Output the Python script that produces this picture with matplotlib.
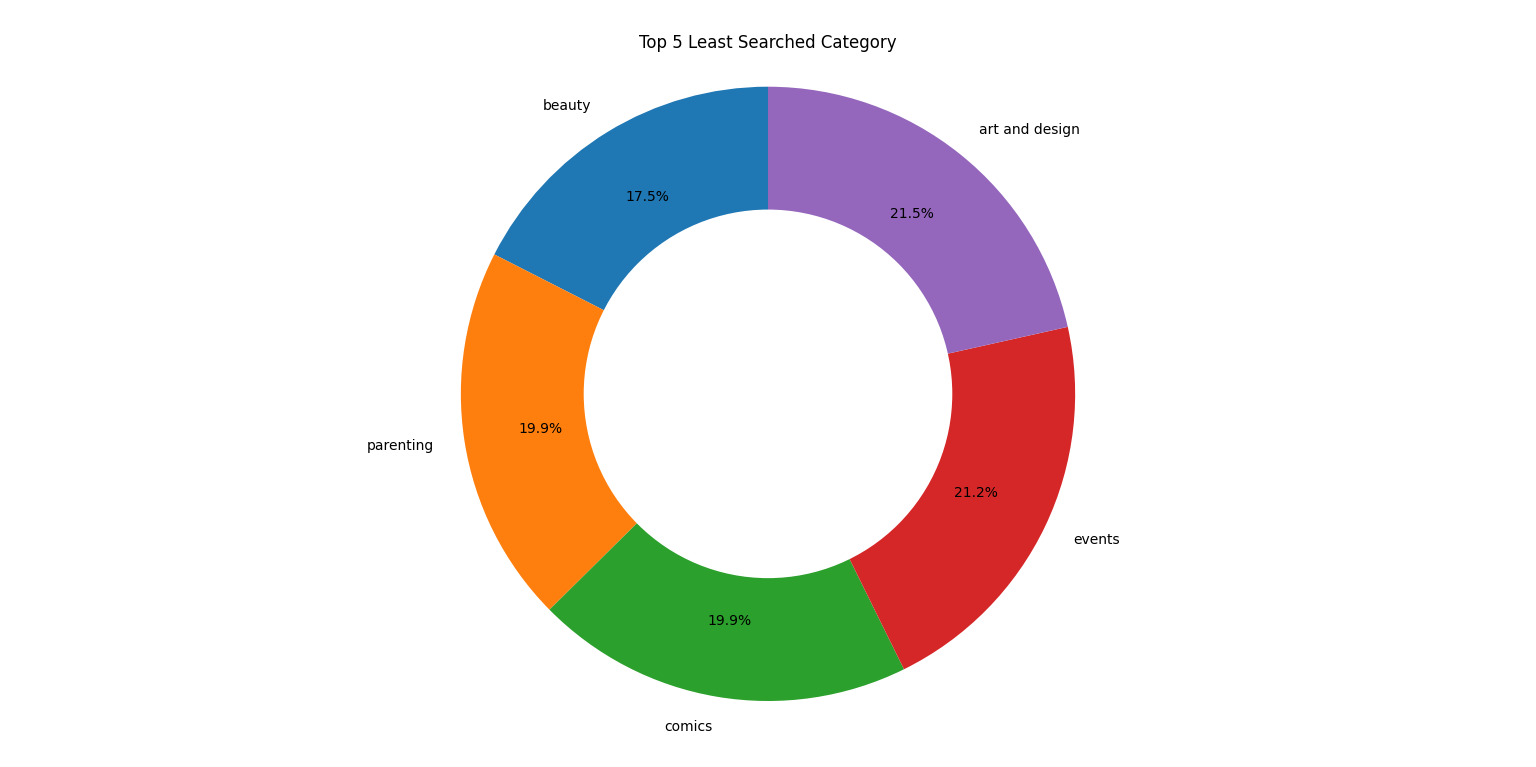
import matplotlib
matplotlib.use("Agg")
import matplotlib.pyplot as plt

# data
categories = ["beauty", "parenting", "comics", "events", "art and design"]
shares = [17.5, 19.9, 19.9, 21.2, 21.5]
colors = ["#1f77b4", "#ff7f0e", "#2ca02c", "#d62728", "#9467bd"]

fig, ax = plt.subplots(figsize=(15.36, 7.67), dpi=100)
ax.pie(shares, labels=categories, colors=colors, autopct="%1.1f%%",
       startangle=90, pctdistance=0.75)

# hole in the middle
centre_circle = plt.Circle((0, 0), 0.6, fc="white")
ax.add_artist(centre_circle)

ax.axis("equal")
ax.set_title("Top 5 Least Searched Category")
fig.subplots_adjust(left=0.05, right=0.95, top=0.927, bottom=0.046)
plt.savefig("out.png")
